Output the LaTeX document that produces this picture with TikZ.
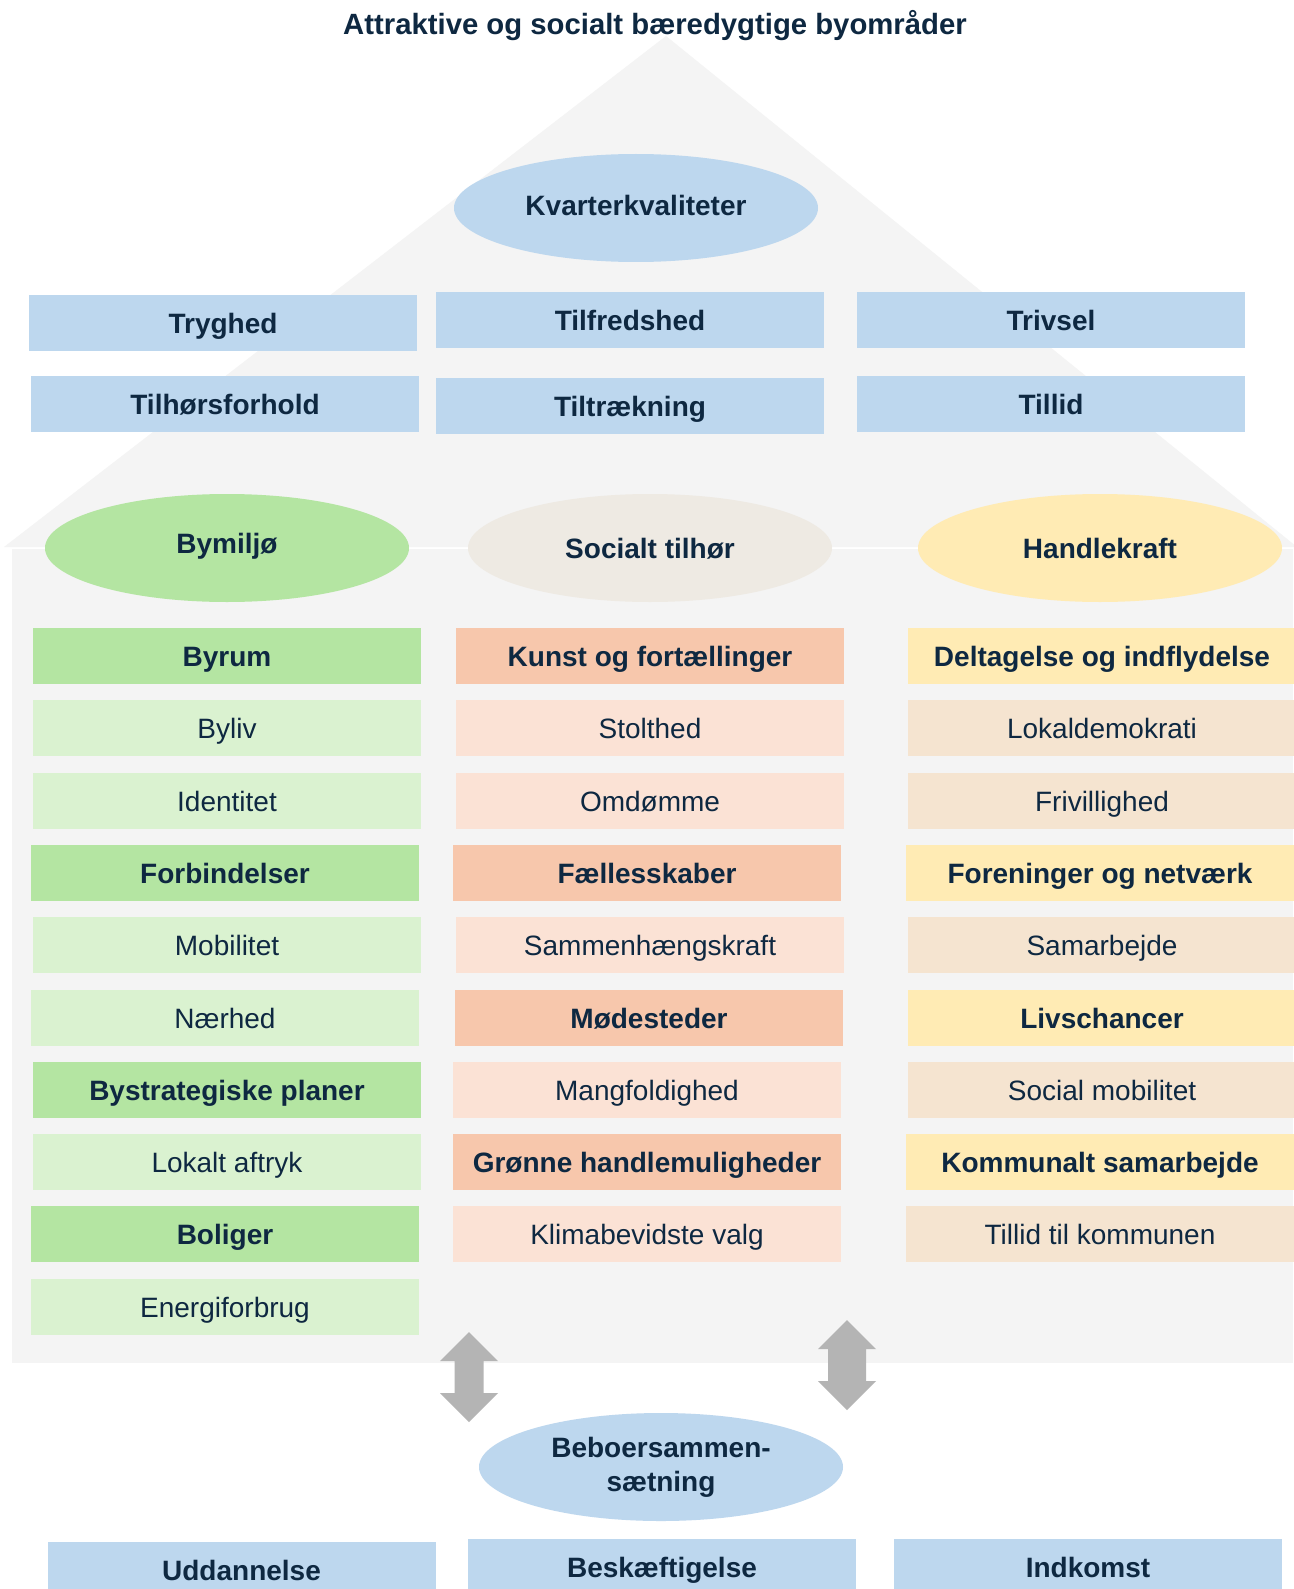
\documentclass[tikz,border=0pt]{standalone}
\usepackage{fontspec}
\setmainfont{Liberation Sans}
\usetikzlibrary{shapes.geometric}
\definecolor{navy}{HTML}{0E2841}
\definecolor{bgray}{HTML}{F4F4F4}
\definecolor{lblue}{HTML}{BDD7EE}
\definecolor{gH}{HTML}{B4E5A2}
\definecolor{gL}{HTML}{DAF2D0}
\definecolor{sH}{HTML}{F7C7AC}
\definecolor{sL}{HTML}{FBE2D5}
\definecolor{yH}{HTML}{FFEBB4}
\definecolor{yL}{HTML}{F5E4D0}
\definecolor{beigeE}{HTML}{EEEAE3}
\definecolor{arrowgray}{HTML}{B4B4B4}
\begin{document}
\begin{tikzpicture}[x=1pt,y=-1pt,
  box/.style={rectangle, minimum width=388, minimum height=56, inner sep=0, text height=24pt, text depth=4pt, text=navy, font=\fontsize{28}{33}\selectfont},
  hbox/.style={box, font=\fontsize{28}{33}\selectfont\bfseries},
  oval/.style={ellipse, minimum width=364, minimum height=108, inner sep=0, text height=24pt, text depth=4pt, text=navy, font=\fontsize{28}{34}\selectfont\bfseries, align=center},
  blockarrow/.style={fill=arrowgray, draw=none}]
\useasboundingbox (0,0) rectangle (1293,1589);
\fill[white] (0,0) rectangle (1293,1589);
% house
\fill[bgray] (4,547) -- (666,36) -- (1297,547) -- cycle;
\fill[bgray] (12,549) rectangle (1293,1363);
% title
\node[text=navy, font=\fontsize{29.3}{34}\selectfont\bfseries, text height=24pt, text depth=4pt] (title) at (655,25) {Attraktive og socialt bæredygtige byområder};
% top
\node[oval, fill=lblue] (kv) at (636,208) {\raisebox{2pt}{Kvarterkvaliteter}};
\node[hbox, fill=lblue] (tryg) at (223,323) {Tryghed};
\node[hbox, fill=lblue] (tilf) at (630,320) {Tilfredshed};
\node[hbox, fill=lblue] (triv) at (1051,320) {Trivsel};
\node[hbox, fill=lblue] (tilh) at (225,404) {Tilhørsforhold};
\node[hbox, fill=lblue] (tiltr) at (630,406) {Tiltrækning};
\node[hbox, fill=lblue] (tillid) at (1051,404) {Tillid};
% middle ellipses
\node[oval, fill=gH] (bym) at (227,548) {\raisebox{5pt}{Bymiljø}};
\node[oval, fill=beigeE] (soc) at (650,548) {Socialt tilhør};
\node[oval, fill=yH] (hand) at (1100,548) {Handlekraft};
% left column
\node[hbox, fill=gH] (byrum) at (227,656) {Byrum};
\node[box, fill=gL] (byliv) at (227,728) {Byliv};
\node[box, fill=gL] (ident) at (227,801) {Identitet};
\node[hbox, fill=gH] (forb) at (225,873) {Forbindelser};
\node[box, fill=gL] (mob) at (227,945) {Mobilitet};
\node[box, fill=gL] (naer) at (225,1018) {Nærhed};
\node[hbox, fill=gH] (bystr) at (227,1090) {Bystrategiske planer};
\node[box, fill=gL] (lokalt) at (227,1162) {Lokalt aftryk};
\node[hbox, fill=gH] (bolig) at (225,1234) {Boliger};
\node[box, fill=gL] (energi) at (225,1307) {Energiforbrug};
% middle column
\node[hbox, fill=sH] (kunst) at (650,656) {Kunst og fortællinger};
\node[box, fill=sL] (stolt) at (650,728) {Stolthed};
\node[box, fill=sL] (omd) at (650,801) {Omdømme};
\node[hbox, fill=sH] (faell) at (647,873) {Fællesskaber};
\node[box, fill=sL] (samm) at (650,945) {Sammenhængskraft};
\node[hbox, fill=sH] (moede) at (649,1018) {Mødesteder};
\node[box, fill=sL] (mangf) at (647,1090) {Mangfoldighed};
\node[hbox, fill=sH] (groen) at (647,1162) {Grønne handlemuligheder};
\node[box, fill=sL] (klima) at (647,1234) {Klimabevidste valg};
% right column
\node[hbox, fill=yH] (delt) at (1102,656) {Deltagelse og indflydelse};
\node[box, fill=yL] (lokd) at (1102,728) {Lokaldemokrati};
\node[box, fill=yL] (friv) at (1102,801) {Frivillighed};
\node[hbox, fill=yH] (foren) at (1100,873) {Foreninger og netværk};
\node[box, fill=yL] (samarb) at (1102,945) {Samarbejde};
\node[hbox, fill=yH] (livs) at (1102,1018) {Livschancer};
\node[box, fill=yL] (socmob) at (1102,1090) {Social mobilitet};
\node[hbox, fill=yH] (komm) at (1100,1162) {Kommunalt samarbejde};
\node[box, fill=yL] (tilkom) at (1100,1234) {Tillid til kommunen};
% arrows
\fill[blockarrow] (469,1332) -- (498,1361) -- (483.5,1361) -- (483.5,1393) -- (498,1393) -- (469,1422) -- (440,1393) -- (454.5,1393) -- (454.5,1361) -- (440,1361) -- cycle;
\fill[blockarrow] (847,1320) -- (876,1349) -- (866,1349) -- (866,1381) -- (876,1381) -- (847,1410) -- (818,1381) -- (828,1381) -- (828,1349) -- (818,1349) -- cycle;
% bottom
\node[oval, fill=lblue, text height=, text depth=] (beboer) at (661,1467) {Beboersammen-\\sætning};
\node[hbox, fill=lblue] (udd) at (241.5,1570) {Uddannelse};
\node[hbox, fill=lblue] (besk) at (662,1567) {Beskæftigelse};
\node[hbox, fill=lblue] (indk) at (1088,1567) {Indkomst};
\end{tikzpicture}
\end{document}
